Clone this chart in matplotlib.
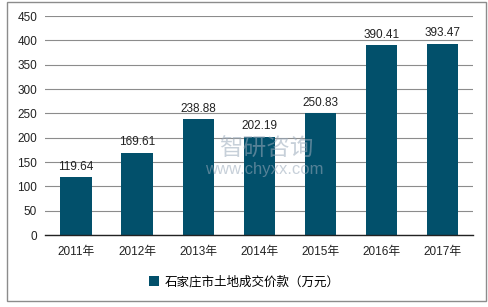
import numpy as np
import matplotlib.pyplot as plt
from matplotlib.patches import Rectangle

plt.rcParams['font.family'] = ['Liberation Sans', 'Noto Sans CJK SC', 'DejaVu Sans']

years = ["2011年", "2012年", "2013年", "2014年", "2015年", "2016年", "2017年"]
values = [119.64, 169.61, 238.88, 202.19, 250.83, 390.41, 393.47]
series_name = "石家庄市土地成交价款（万元）"

BAR_COLOR = "#02506b"

fig = plt.figure(figsize=(4.89, 3.07), dpi=100)
ax = fig.add_axes([0.093, 0.2345, 0.874, 0.713])

x = np.arange(len(years))
rects = ax.bar(x, values, width=0.51, color=BAR_COLOR, label=series_name, zorder=3)
ax.bar_label(rects, labels=[f"{v:.2f}" for v in values], padding=3, fontsize=8.5, color="#222222")

ax.set_xlim(-0.5, len(years) - 0.5)
ax.set_ylim(0, 450)
ax.set_yticks(np.arange(0, 451, 50))
ax.set_xticks(x)
ax.set_xticklabels(years)
ax.tick_params(axis='both', length=0, labelsize=8.5, colors="#222222")
ax.tick_params(axis='x', pad=8)
ax.tick_params(axis='y', pad=6)

ax.grid(axis='y', color="#8c8c8c", linewidth=0.8, zorder=0)
for s in ["top", "right", "left"]:
    ax.spines[s].set_visible(False)
ax.spines["bottom"].set_color("#222222")
ax.spines["bottom"].set_linewidth(1.0)
ax.spines["bottom"].set_zorder(4)

# watermark
fig.text(0.545, 0.512, "智研咨询", fontsize=17, color="#9aaabb", alpha=0.55,
         ha="center", va="center", family=['Noto Sans CJK SC', 'DejaVu Sans'], zorder=5)
fig.text(0.54, 0.447, "www.chyxx.com", fontsize=12, color="#9aaabb", alpha=0.55,
         ha="center", va="center", zorder=5)

leg = fig.legend(loc="center", bbox_to_anchor=(0.5, 0.082), frameon=False,
                 fontsize=9, handlelength=0.8, handleheight=0.8, handletextpad=0.4)
for t in leg.get_texts():
    t.set_family(['Noto Sans CJK SC', 'DejaVu Sans'])

# outer frame
fig.patches.append(Rectangle((7 / 489, 6 / 307), 479 / 489, 299 / 307, transform=fig.transFigure,
                             fill=False, edgecolor="#8c8c8c", linewidth=1.0))

fig.savefig("out.png", dpi=100)
